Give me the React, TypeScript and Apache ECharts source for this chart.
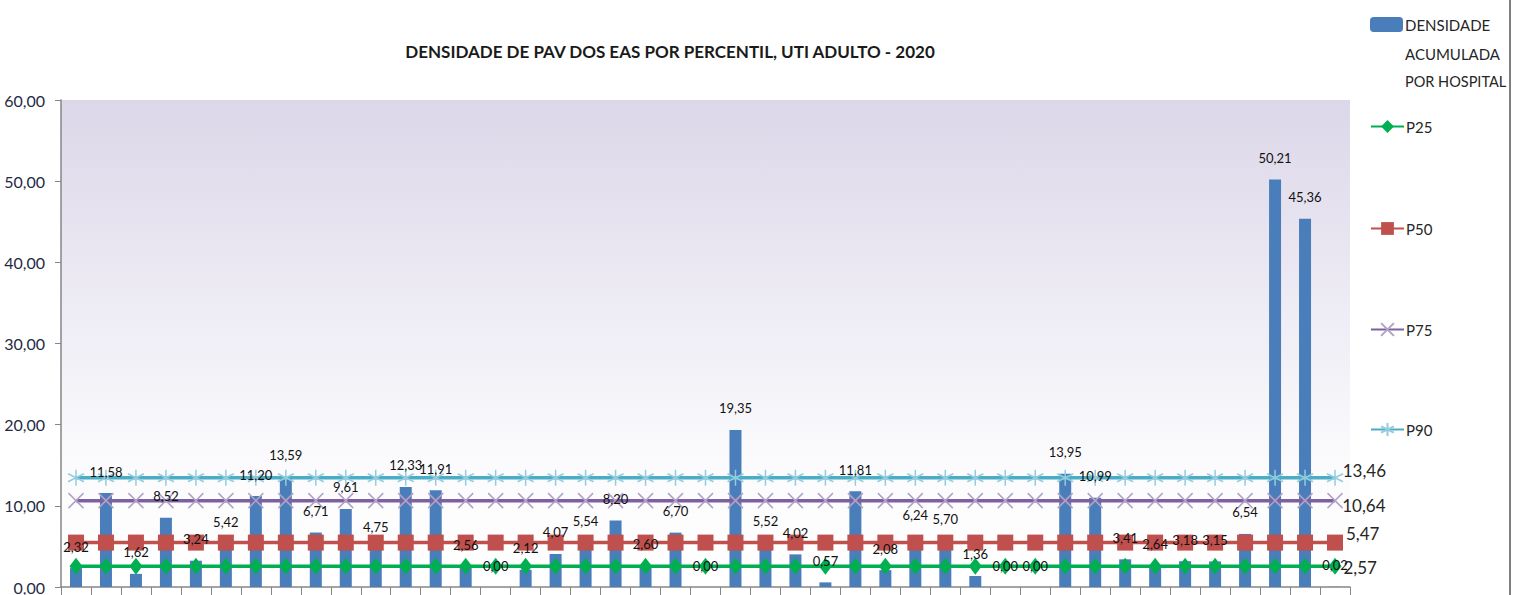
import React, { useEffect, useRef } from "react";
import * as echarts from "echarts";

const categories = [
  "1", "2", "3", "4", "5", "6", "7", "8", "9", "10",
  "11", "12", "13", "14", "15", "16", "17", "18", "19", "20",
  "21", "22", "23", "24", "25", "26", "27", "28", "29", "30",
  "31", "32", "33", "34", "35", "36", "37", "38", "39", "40",
  "41", "42", "43",
];

const densidade = [
  2.32, 11.58, 1.62, 8.52, 3.24, 5.42, 11.2, 13.59, 6.71, 9.61,
  4.75, 12.33, 11.91, 2.56, 0.0, 2.12, 4.07, 5.54, 8.2, 2.6,
  6.7, 0.0, 19.35, 5.52, 4.02, 0.57, 11.81, 2.08, 6.24, 5.7,
  1.36, 0.0, 0.0, 13.95, 10.99, 3.41, 2.64, 3.18, 3.15, 6.54,
  50.21, 45.36, 0.02,
];

const p25 = [
  2.57, 2.57, 2.57, 2.57, 2.57, 2.57, 2.57, 2.57, 2.57, 2.57,
  2.57, 2.57, 2.57, 2.57, 2.57, 2.57, 2.57, 2.57, 2.57, 2.57,
  2.57, 2.57, 2.57, 2.57, 2.57, 2.57, 2.57, 2.57, 2.57, 2.57,
  2.57, 2.57, 2.57, 2.57, 2.57, 2.57, 2.57, 2.57, 2.57, 2.57,
  2.57, 2.57, 2.57,
];
const p50 = [
  5.47, 5.47, 5.47, 5.47, 5.47, 5.47, 5.47, 5.47, 5.47, 5.47,
  5.47, 5.47, 5.47, 5.47, 5.47, 5.47, 5.47, 5.47, 5.47, 5.47,
  5.47, 5.47, 5.47, 5.47, 5.47, 5.47, 5.47, 5.47, 5.47, 5.47,
  5.47, 5.47, 5.47, 5.47, 5.47, 5.47, 5.47, 5.47, 5.47, 5.47,
  5.47, 5.47, 5.47,
];
const p75 = [
  10.64, 10.64, 10.64, 10.64, 10.64, 10.64, 10.64, 10.64, 10.64, 10.64,
  10.64, 10.64, 10.64, 10.64, 10.64, 10.64, 10.64, 10.64, 10.64, 10.64,
  10.64, 10.64, 10.64, 10.64, 10.64, 10.64, 10.64, 10.64, 10.64, 10.64,
  10.64, 10.64, 10.64, 10.64, 10.64, 10.64, 10.64, 10.64, 10.64, 10.64,
  10.64, 10.64, 10.64,
];
const p90 = [
  13.46, 13.46, 13.46, 13.46, 13.46, 13.46, 13.46, 13.46, 13.46, 13.46,
  13.46, 13.46, 13.46, 13.46, 13.46, 13.46, 13.46, 13.46, 13.46, 13.46,
  13.46, 13.46, 13.46, 13.46, 13.46, 13.46, 13.46, 13.46, 13.46, 13.46,
  13.46, 13.46, 13.46, 13.46, 13.46, 13.46, 13.46, 13.46, 13.46, 13.46,
  13.46, 13.46, 13.46,
];

const FONT = "Lato, 'Liberation Sans', sans-serif";
const fmt = (v: number) => v.toFixed(2).replace(".", ",");
const BAR_NAME = "DENSIDADE ACUMULADA POR HOSPITAL";

const X_PATH = "path://M0,0L10,10M10,0L0,10";
const STAR_PATH = "path://M5,0L5,10M0,2.5L10,7.5M10,2.5L0,7.5";

function lineSeries(
  name: string,
  data: number[],
  lineColor: string,
  symbol: string,
  symbolSize: number | number[],
  itemStyle: any,
  labelOffset: number[]
) {
  const last = data.length - 1;
  return {
    name,
    type: "line",
    z: 3,
    symbol,
    symbolSize,
    lineStyle: { color: lineColor, width: 3.5 },
    itemStyle,
    data: data.map((v, i) =>
      i === last
        ? {
            value: v,
            label: {
              show: true,
              position: "right",
              distance: 0,
              offset: labelOffset,
              formatter: (p: any) => fmt(p.value),
              fontFamily: FONT,
              fontSize: 17,
              color: "#262626",
            },
          }
        : v
    ),
  };
}

export default function App() {
  const ref = useRef<HTMLDivElement>(null);

  useEffect(() => {
    const chart = echarts.init(ref.current!, null, { renderer: "svg" });
    const legendText = { fontFamily: FONT, fontSize: 15, color: "#262626", padding: [0, 0, 0, -3] };
    chart.setOption({
      animation: false,
      backgroundColor: "#ffffff",
      title: {
        text: "DENSIDADE DE PAV DOS EAS POR PERCENTIL, UTI ADULTO - 2020",
        left: 665,
        top: 38,
        textAlign: "center",
        textStyle: { fontFamily: FONT, fontWeight: "bold", fontSize: 17, color: "#1a1a1a" },
      },
      legend: [
        {
          data: [BAR_NAME],
          left: 1365,
          top: 12,
          itemWidth: 33,
          itemHeight: 15,
          formatter: () => "DENSIDADE",
          textStyle: legendText,
        },
        { data: ["P25"], left: 1365, top: 114, itemWidth: 33, itemHeight: 16, textStyle: legendText },
        { data: ["P50"], left: 1365, top: 216, itemWidth: 33, itemHeight: 16, textStyle: legendText },
        { data: ["P75"], left: 1365, top: 317, itemWidth: 33, itemHeight: 16, textStyle: legendText },
        { data: ["P90"], left: 1365, top: 417, itemWidth: 33, itemHeight: 16, textStyle: legendText },
      ],
      graphic: [
        {
          type: "text",
          left: 1405,
          top: 46,
          style: { text: "ACUMULADA", font: `15px ${FONT}`, fill: "#262626" },
        },
        {
          type: "text",
          left: 1405,
          top: 74,
          style: { text: "POR HOSPITAL", font: `14.5px ${FONT}`, fill: "#262626" },
        },
        {
          type: "line",
          shape: { x1: 1510, y1: 0, x2: 1510, y2: 595 },
          style: { stroke: "#7f7f7f", lineWidth: 2 },
        },
      ],
      grid: {
        left: 61,
        right: 167,
        top: 100,
        bottom: 7,
        show: true,
        borderWidth: 0,
        backgroundColor: new echarts.graphic.LinearGradient(0, 0, 0, 1, [
          { offset: 0, color: "#dcd7e9" },
          { offset: 0.75, color: "#fbfbfd" },
          { offset: 1, color: "#ffffff" },
        ]),
      },
      xAxis: {
        type: "category",
        data: categories,
        axisLine: { lineStyle: { color: "#868686", width: 1.5 } },
        axisTick: { show: true, length: 8, lineStyle: { color: "#868686" } },
        axisLabel: { show: false },
      },
      yAxis: {
        type: "value",
        min: 0,
        max: 60,
        interval: 10,
        splitLine: { show: false },
        axisLine: { show: true, lineStyle: { color: "#868686", width: 1.5 } },
        axisTick: { show: true, length: 6, lineStyle: { color: "#868686" } },
        axisLabel: {
          formatter: (v: number) => fmt(v),
          fontFamily: FONT,
          fontSize: 16,
          color: "#1f2a44",
          margin: 16,
        },
      },
      series: [
        {
          name: BAR_NAME,
          type: "bar",
          barWidth: 12,
          barGap: "-100%",
          z: 2,
          itemStyle: { color: "#4a7ebb" },
          data: densidade,
        },
        lineSeries("P25", p25, "#00b050", "diamond", [13, 17], { color: "#00b050" }, [2, 1]),
        lineSeries("P50", p50, "#c0504d", "rect", 16, { color: "#c0504d" }, [3, -9]),
        lineSeries("P75", p75, "#7d60a0", X_PATH, 15, {
          color: "rgba(0,0,0,0)",
          borderColor: "#b3a2c7",
          borderWidth: 1.5,
        }, [-1, 5]),
        lineSeries("P90", p90, "#4bacc6", STAR_PATH, 16, {
          color: "rgba(0,0,0,0)",
          borderColor: "#93cddd",
          borderWidth: 1.5,
        }, [-1, -7]),
        {
          name: BAR_NAME + " (rótulos)",
          type: "bar",
          barWidth: 12,
          barGap: "-100%",
          z: 10,
          silent: true,
          itemStyle: { color: "rgba(0,0,0,0)" },
          label: {
            show: true,
            position: "top",
            distance: 15,
            formatter: (p: any) => fmt(p.value),
            fontFamily: FONT,
            fontSize: 13,
            color: "#111111",
          },
          data: densidade,
        },
      ],
    });
    return () => chart.dispose();
  }, []);

  return (
    <div
      ref={ref}
      style={{ position: "absolute", left: 0, top: 0, width: 1517, height: 595 }}
    />
  );
}
